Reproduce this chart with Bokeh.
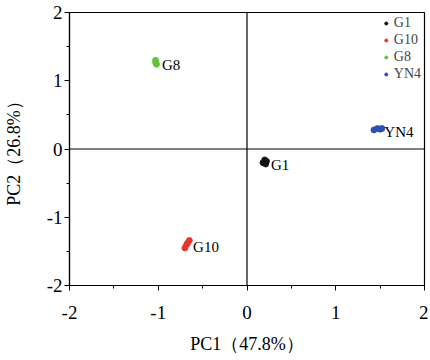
from bokeh.plotting import figure
from bokeh.models import Range1d, FixedTicker, Span, Legend, LegendItem
from bokeh.core.properties import value
from bokeh.embed import file_html
from bokeh.resources import INLINE

groups = ["G1", "G10", "G8", "YN4"]
colors = ["#111111", "#e8342c", "#62c43c", "#2b4fb4"]
g1_x = [0.18, 0.20, 0.22, 0.21]
g1_y = [-0.20, -0.16, -0.18, -0.22]
g10_x = [-0.70, -0.68, -0.65, -0.67]
g10_y = [-1.45, -1.40, -1.34, -1.38]
g8_x = [-1.03, -1.03, -1.02]
g8_y = [1.30, 1.27, 1.24]
yn4_x = [1.43, 1.47, 1.50, 1.52]
yn4_y = [0.28, 0.30, 0.29, 0.30]
xs = [g1_x, g10_x, g8_x, yn4_x]
ys = [g1_y, g10_y, g8_y, yn4_y]
ticks = [-2, -1, 0, 1, 2]
tick_labels = ["-2", "-1", "0", "1", "2"]
minor = [-1.5, -0.5, 0.5, 1.5]
x_label = "PC1（47.8%）"
y_label = "PC2（26.8%）"

FONT = "Liberation Serif"

p = figure(width=421, height=350, output_backend="svg", toolbar_location=None,
           x_range=Range1d(-2, 2), y_range=Range1d(-2, 2),
           min_border_left=10, min_border_right=4, min_border_top=12, min_border_bottom=5)
p.frame_width = 355
p.frame_height = 273
p.grid.visible = False
p.outline_line_color = "black"
p.outline_line_width = 1.2

for ax in (p.xaxis[0], p.yaxis[0]):
    ax.ticker = FixedTicker(ticks=ticks, minor_ticks=minor)
    ax.major_label_overrides = {t: l for t, l in zip(ticks, tick_labels)}
    ax.major_label_text_font = FONT
    ax.major_label_text_font_size = "19px"
    ax.major_label_text_color = "black"
    ax.axis_label_text_font = FONT
    ax.axis_label_text_font_size = "18px"
    ax.axis_label_text_font_style = "normal"
    ax.axis_label_text_color = "black"
    ax.axis_line_color = "black"
    ax.axis_line_width = 1.2
    ax.major_tick_line_color = "black"
    ax.minor_tick_line_color = "black"
    ax.major_tick_out = 5
    ax.major_tick_in = 0
    ax.minor_tick_out = 3
    ax.minor_tick_in = 0
p.xaxis.axis_label = x_label
p.yaxis.axis_label = y_label
p.xaxis.major_label_standoff = 15
p.yaxis.major_label_standoff = 2
p.xaxis.axis_label_standoff = 12
p.yaxis.axis_label_standoff = 20

p.add_layout(Span(location=0, dimension="width", line_color="black", line_width=1.2))
p.add_layout(Span(location=0, dimension="height", line_color="black", line_width=1.2))

items = []
for g, c, x, y in zip(groups, colors, xs, ys):
    r = p.scatter(x, y, size=6, fill_color=c, line_color=c, line_alpha=0.8)
    items.append(LegendItem(label=g, renderers=[r]))
    cx = sum(x) / len(x)
    cy = sum(y) / len(y)
    p.text(x=[cx], y=[cy], text=[g], x_offset=6, y_offset=3, text_baseline="middle",
           text_font=value(FONT), text_font_size="15px", text_color="black")

legend = Legend(items=items, location="top_right")
legend.label_text_font = FONT
legend.label_text_font_size = "14px"
legend.border_line_alpha = 0
legend.background_fill_alpha = 0
legend.glyph_width = 8
legend.glyph_height = 8
legend.label_standoff = 4
legend.spacing = 1
legend.label_height = 16
legend.padding = 0
legend.margin = 3
p.add_layout(legend)

open("out.html", "w").write(file_html(p, INLINE))
